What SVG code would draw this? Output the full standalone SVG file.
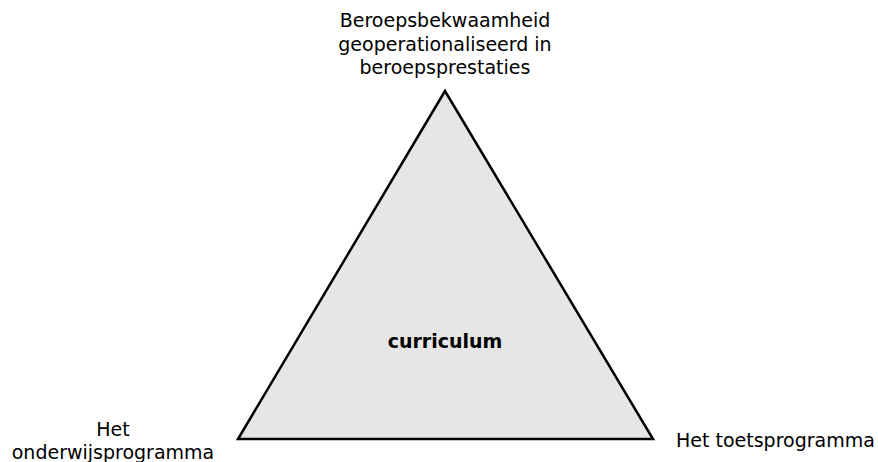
<svg xmlns="http://www.w3.org/2000/svg" width="878" height="462" viewBox="0 0 878 462">
<style>
text{font-family:"DejaVu Sans",Verdana,sans-serif;font-size:19px;fill:#000}
.b{font-weight:bold}
.tri{fill:#e6e6e6;stroke:#000;stroke-width:2.5;stroke-linejoin:miter}
</style>
<rect width="878" height="462" fill="#fff"/>
<g id="triangle">
<polygon class="tri" points="445,91 238,439 653,439"/>
<text class="b" x="445" y="348" text-anchor="middle">curriculum</text>
</g>
<g id="top-label">
<text x="445" y="27" text-anchor="middle">Beroepsbekwaamheid</text>
<text x="445" y="51" text-anchor="middle">geoperationaliseerd in</text>
<text x="445" y="74" text-anchor="middle">beroepsprestaties</text>
</g>
<g id="left-label">
<text x="113" y="436" text-anchor="middle">Het</text>
<text x="113" y="459" text-anchor="middle">onderwijsprogramma</text>
</g>
<g id="right-label">
<text x="676" y="447">Het toetsprogramma</text>
</g>
<g id="connectors"></g>
</svg>
